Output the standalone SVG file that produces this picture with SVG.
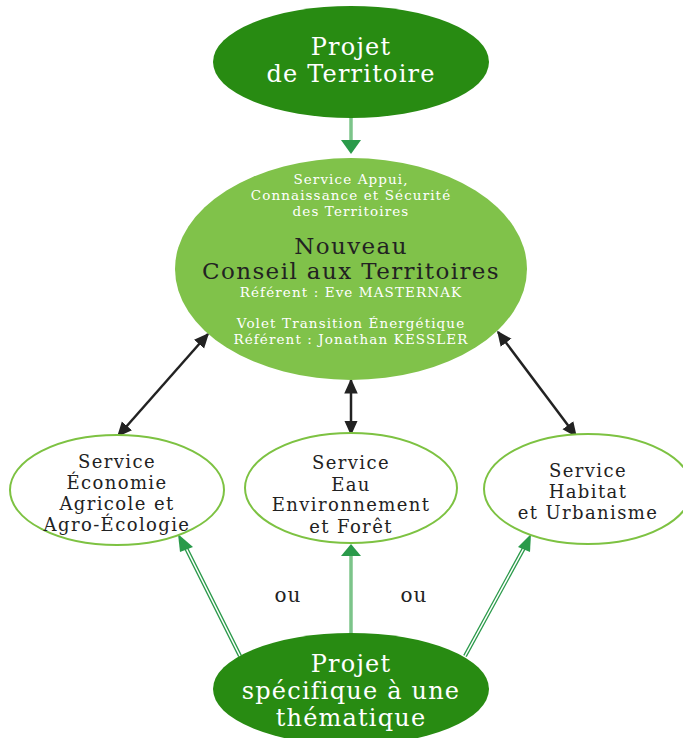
<svg xmlns="http://www.w3.org/2000/svg" width="683" height="738" viewBox="0 0 683 738">
<defs>
<style>
text{font-family:"DejaVu Serif","Liberation Serif",serif;text-anchor:middle}
.w{fill:#ffffff}
.big{font-size:24px;letter-spacing:1.2px}
.mid{font-size:23px;letter-spacing:1.4px}
.sm{font-size:13.5px;letter-spacing:1.1px}
.dk{fill:#222222}
.svc{font-size:18px;letter-spacing:1.4px;fill:#222222}
.ou{font-size:20px;letter-spacing:1px;fill:#222222}
.dark{fill:#288b12}
.svcE{fill:#ffffff;stroke:#7dc242;stroke-width:2}
.blk{stroke:#222222;stroke-width:2.5;fill:none}
.gout{stroke:#2a9a4a;stroke-width:4;fill:none}
.gin{stroke:#ffffff;stroke-width:1.5;fill:none}
.gv{stroke:#7cc48a;stroke-width:3.5;fill:none}
</style>
<marker id="ab" viewBox="0 0 10 10" refX="9" refY="5" markerWidth="15" markerHeight="15" markerUnits="userSpaceOnUse" orient="auto-start-reverse">
<path d="M0,0.5 L10,5 L0,9.5 z" fill="#222222"/>
</marker>
</defs>
<g id="connectors">
<line class="gv" x1="351" y1="118" x2="351" y2="142"/>
<path d="M341,140 L361,140 L351,154 z" fill="#2a9a4a"/>
<line class="blk" x1="118" y1="436" x2="208" y2="334" marker-start="url(#ab)" marker-end="url(#ab)"/>
<line class="blk" x1="351" y1="380" x2="351" y2="434" marker-start="url(#ab)" marker-end="url(#ab)"/>
<line class="blk" x1="576" y1="436" x2="498" y2="332" marker-start="url(#ab)" marker-end="url(#ab)"/>
<line class="gout" x1="240" y1="656" x2="186" y2="548"/>
<line class="gin" x1="240" y1="656" x2="186" y2="548"/>
<path d="M178,534 L193,547 L180,552 z" fill="#2a9a4a"/>
<line class="gv" x1="351" y1="633" x2="351" y2="556"/>
<path d="M341,556 L361,556 L351,544 z" fill="#2a9a4a"/>
<line class="gout" x1="465" y1="656" x2="524" y2="548"/>
<line class="gin" x1="465" y1="656" x2="524" y2="548"/>
<path d="M531,534 L518,547 L530,552 z" fill="#2a9a4a"/>
</g>
<g id="projet-territoire">
<ellipse class="dark" cx="351" cy="62" rx="138" ry="56"/>
<text class="w big" x="351" y="55">Projet</text>
<text class="w big" x="351" y="82">de Territoire</text>
</g>
<g id="conseil">
<ellipse cx="351" cy="269" rx="176" ry="111" fill="#80c24a"/>
<text class="w sm" x="351" y="184">Service Appui,</text>
<text class="w sm" x="351" y="200">Connaissance et Sécurité</text>
<text class="w sm" x="351" y="216">des Territoires</text>
<text class="dk mid" x="351" y="254">Nouveau</text>
<text class="dk mid" x="351" y="279">Conseil aux Territoires</text>
<text class="w sm" x="351" y="297">Référent : Eve MASTERNAK</text>
<text class="w sm" x="351" y="328">Volet Transition Énergétique</text>
<text class="w sm" x="351" y="344">Référent : Jonathan KESSLER</text>
</g>
<g id="svc-agri">
<ellipse class="svcE" cx="117" cy="490" rx="107" ry="55"/>
<text class="svc" x="117" y="468">Service</text>
<text class="svc" x="117" y="489">Économie</text>
<text class="svc" x="117" y="510">Agricole et</text>
<text class="svc" x="117" y="531">Agro-Écologie</text>
</g>
<g id="svc-eau">
<ellipse class="svcE" cx="351" cy="488" rx="106" ry="55"/>
<text class="svc" x="351" y="469">Service</text>
<text class="svc" x="351" y="491">Eau</text>
<text class="svc" x="351" y="511">Environnement</text>
<text class="svc" x="351" y="533">et Forêt</text>
</g>
<g id="svc-habitat">
<ellipse class="svcE" cx="588" cy="489" rx="104" ry="55"/>
<text class="svc" x="588" y="477">Service</text>
<text class="svc" x="588" y="498">Habitat</text>
<text class="svc" x="588" y="519">et Urbanisme</text>
</g>
<g id="labels">
<text class="ou" x="288" y="602">ou</text>
<text class="ou" x="414" y="602">ou</text>
</g>
<g id="projet-specifique">
<ellipse class="dark" cx="351" cy="689" rx="138" ry="56"/>
<text class="w big" x="351" y="672">Projet</text>
<text class="w big" x="351" y="699">spécifique à une</text>
<text class="w big" x="351" y="726">thématique</text>
</g>
</svg>
